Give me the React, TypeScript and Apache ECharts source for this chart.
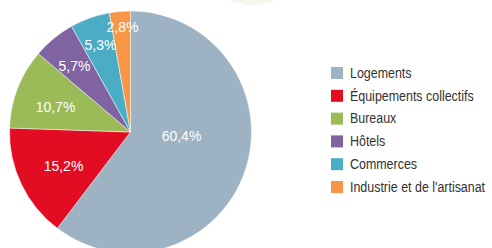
import React, { useEffect, useRef } from "react";
import * as echarts from "echarts";

const categories = [
  "Logements",
  "Équipements collectifs",
  "Bureaux",
  "Hôtels",
  "Commerces",
  "Industrie et de l'artisanat",
];
const values = [60.4, 15.2, 10.7, 5.7, 5.3, 2.8];
const valueLabels = ["60,4%", "15,2%", "10,7%", "5,7%", "5,3%", "2,8%"];

const colors = ["#9db2c2", "#e30d23", "#9bbb59", "#8064a2", "#4bacc6", "#f79646"];
// label offsets relative to pie centre (style only)
const labelOffsets: [number, number][] = [
  [51, 4],
  [-67, 34],
  [-75, -25],
  [-56, -66],
  [-30, -87],
  [-8, -105],
];

const CX = 130.5;
const CY = 132;
const FONT = "'Liberation Sans', Arial, sans-serif";
const LEG_X = 331;
const LEG_Y0 = 73;
const LEG_STEP = 22.8;
const SQ = 12;
const NARROW = 0.83;

export default function App() {
  const ref = useRef<HTMLDivElement>(null);
  useEffect(() => {
    if (!ref.current) return;
    const chart = echarts.init(ref.current, null, { renderer: "svg" });
    const legendItems: any[] = [];
    categories.forEach((name, i) => {
      const cy = LEG_Y0 + i * LEG_STEP;
      legendItems.push({
        type: "rect",
        shape: { x: LEG_X, y: cy - SQ / 2, width: SQ, height: SQ },
        style: { fill: colors[i] },
        silent: true,
      });
      legendItems.push({
        type: "text",
        x: LEG_X + 19,
        y: cy,
        scaleX: NARROW,
        style: {
          text: name,
          x: 0,
          y: 0,
          fill: "#333333",
          font: `15px ${FONT}`,
          textVerticalAlign: "middle",
          verticalAlign: "middle",
          align: "left",
        },
        silent: true,
      });
    });
    chart.setOption({
      animation: false,
      backgroundColor: "#ffffff",
      graphic: [
        {
          type: "polygon",
          shape: { points: [[228, 0], [276, 0], [252, 6]] },
          style: { fill: "#f6f6ee" },
          silent: true,
        },
        ...legendItems,
      ],
      series: [
        {
          type: "pie",
          center: [CX, CY],
          radius: 121,
          startAngle: 90,
          clockwise: true,
          avoidLabelOverlap: false,
          itemStyle: { borderColor: "#ffffff", borderWidth: 0.5 },
          label: {
            show: true,
            position: "inside",
            color: "#ffffff",
            fontFamily: FONT,
            fontSize: 14,
            formatter: (p: any) => valueLabels[p.dataIndex],
          },
          labelLine: { show: false },
          labelLayout: (p: any) => ({
            x: CX + labelOffsets[p.dataIndex][0],
            y: CY + labelOffsets[p.dataIndex][1],
            align: "center",
            verticalAlign: "middle",
          }),
          emphasis: { disabled: true },
          data: categories.map((name, i) => ({
            name,
            value: values[i],
            itemStyle: { color: colors[i] },
          })),
        },
      ],
    });
    return () => chart.dispose();
  }, []);
  return (
    <div
      ref={ref}
      style={{ position: "fixed", left: 0, top: 0, width: 492, height: 248 }}
    />
  );
}
